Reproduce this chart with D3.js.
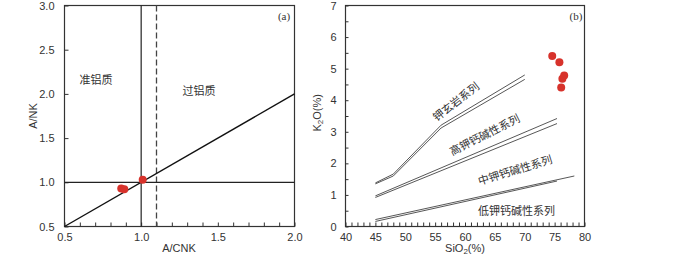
<!DOCTYPE html>
<html>
<head>
<meta charset="utf-8">
<script src="https://cdn.jsdelivr.net/npm/d3@7"></script>
<style>
  body { margin: 0; background: #fff; }
  text { font-family: "Liberation Sans", Arial, sans-serif; fill: #333; }
  .cn { font-family: "Noto Sans CJK SC", sans-serif; }
</style>
</head>
<body>
<div id="chart"></div>
<script>
// ---------- data ----------
// panel (a): A/CNK vs A/NK
const aTicksX = [0.5, 1.0, 1.5, 2.0];
const aTicksY = [0.5, 1.0, 1.5, 2.0, 2.5, 3.0];
const aPoints = [[0.87, 0.93], [0.89, 0.92], [1.01, 1.03]];
const aDiagonal = [[0.5, 0.5], [2.0, 2.0]];

// panel (b): SiO2 vs K2O
const bTicksX = [40, 45, 50, 55, 60, 65, 70, 75, 80];
const bTicksY = [0, 1, 2, 3, 4, 5, 6, 7];
const bPoints = [[74.6, 5.40], [75.8, 5.20], [76.6, 4.78], [76.3, 4.68], [76.1, 4.40]];
const shoUpper = [[45, 1.38], [48, 1.66], [56, 3.21], [70, 4.80]];
const shoLower = [[45, 1.35], [48, 1.60], [56, 3.12], [70, 4.66]];
const hkUpper = [[45, 0.97], [75.4, 3.42]];
const hkLower = [[45, 0.92], [75.4, 3.26]];
const lkUpper = [[45, 0.22], [78.3, 1.60]];
const lkLower = [[45, 0.16], [75.4, 1.44]];
const bLabels = [
  { text: "钾玄岩系列", x: 58.5, y: 3.95, rot: -38 },
  { text: "高钾钙碱性系列", x: 63.3, y: 2.90, rot: -27 },
  { text: "中钾钙碱性系列", x: 68.4, y: 1.78, rot: -17 },
  { text: "低钾钙碱性系列", x: 68.6, y: 0.50, rot: 0 }
];

const svg = d3.select("#chart").append("svg")
  .attr("width", 700).attr("height", 256);

const red = "#d7322b";

// =========================
// PANEL A
// =========================
const xa = d3.scaleLinear().domain([0.5, 2.0]).range([64.5, 294.5]);
const ya = d3.scaleLinear().domain([0.5, 3.0]).range([226.5, 5.5]);

const ga = svg.append("g");

ga.append("rect")
  .attr("x", xa(0.5)).attr("y", ya(3.0))
  .attr("width", xa(2.0) - xa(0.5)).attr("height", ya(0.5) - ya(3.0))
  .attr("fill", "none").attr("stroke", "#333").attr("stroke-width", 1.2);

ga.append("g")
  .attr("transform", `translate(0,${ya(0.5)})`)
  .call(d3.axisBottom(xa).tickValues(d3.range(0.5, 2.001, 0.1)).tickSize(-4).tickFormat(""))
  .call(g => g.select(".domain").remove());
ga.append("g")
  .attr("transform", `translate(0,${ya(0.5)})`)
  .call(d3.axisBottom(xa).tickValues(aTicksX).tickSize(0).tickPadding(7).tickFormat(d3.format(".1f")))
  .call(g => g.select(".domain").remove())
  .selectAll("text").style("font-size", "11px").attr("fill", "#333");

ga.append("g")
  .attr("transform", `translate(${xa(0.5)},0)`)
  .call(d3.axisLeft(ya).tickValues(aTicksY).tickSize(-4).tickPadding(10).tickFormat(d3.format(".1f")))
  .call(g => g.select(".domain").remove())
  .selectAll("text").style("font-size", "11px").attr("fill", "#333");

svg.selectAll(".tick line").attr("stroke", "#333");

// reference lines
ga.append("line")
  .attr("x1", xa(1.0)).attr("x2", xa(1.0)).attr("y1", ya(3.0)).attr("y2", ya(0.5))
  .attr("stroke", "#222").attr("stroke-width", 1.2);
ga.append("line")
  .attr("x1", xa(1.1)).attr("x2", xa(1.1)).attr("y1", ya(3.0)).attr("y2", ya(0.5))
  .attr("stroke", "#444").attr("stroke-width", 1.3).attr("stroke-dasharray", "6,3");
ga.append("line")
  .attr("x1", xa(0.5)).attr("x2", xa(2.0)).attr("y1", ya(1.0)).attr("y2", ya(1.0))
  .attr("stroke", "#222").attr("stroke-width", 1.2);
ga.append("path")
  .attr("d", d3.line().x(d => xa(d[0])).y(d => ya(d[1]))(aDiagonal))
  .attr("fill", "none").attr("stroke", "#111").attr("stroke-width", 1.4);

ga.selectAll("circle").data(aPoints).enter().append("circle")
  .attr("cx", d => xa(d[0])).attr("cy", d => ya(d[1])).attr("r", 4)
  .attr("fill", red);

ga.append("text").attr("class", "cn").attr("x", 96).attr("y", 84)
  .attr("text-anchor", "middle").style("font-size", "11px").text("准铝质");
ga.append("text").attr("class", "cn").attr("x", 199).attr("y", 95)
  .attr("text-anchor", "middle").style("font-size", "11px").text("过铝质");
ga.append("text").attr("x", 284).attr("y", 20).attr("text-anchor", "middle")
  .style("font-family", "'Liberation Serif', serif").style("font-size", "11px").attr("fill", "#222")
  .text("(a)");

ga.append("text").attr("x", 179).attr("y", 252).attr("text-anchor", "middle")
  .style("font-size", "11px").text("A/CNK");
ga.append("text").attr("transform", `translate(37,${ya(1.75)}) rotate(-90)`)
  .attr("text-anchor", "middle").style("font-size", "11px").text("A/NK");

// =========================
// PANEL B
// =========================
const xb = d3.scaleLinear().domain([40, 80]).range([345.5, 584.5]);
const yb = d3.scaleLinear().domain([0, 7]).range([226.5, 5.5]);

const gb = svg.append("g");

gb.append("rect")
  .attr("x", xb(40)).attr("y", yb(7))
  .attr("width", xb(80) - xb(40)).attr("height", yb(0) - yb(7))
  .attr("fill", "none").attr("stroke", "#333").attr("stroke-width", 1.2);

gb.append("g")
  .attr("transform", `translate(0,${yb(0)})`)
  .call(d3.axisBottom(xb).tickValues(d3.range(40, 80.01, 1)).tickSize(-4).tickFormat(""))
  .call(g => g.select(".domain").remove());
gb.append("g")
  .attr("transform", `translate(0,${yb(0)})`)
  .call(d3.axisBottom(xb).tickValues(bTicksX).tickSize(0).tickPadding(7).tickFormat(d3.format("d")))
  .call(g => g.select(".domain").remove())
  .selectAll("text").style("font-size", "11px").attr("fill", "#333");

gb.append("g")
  .attr("transform", `translate(${xb(40)},0)`)
  .call(d3.axisLeft(yb).tickValues(d3.range(0, 7.01, 0.5)).tickSize(-3).tickFormat(""))
  .call(g => g.select(".domain").remove());
gb.append("g")
  .attr("transform", `translate(${xb(40)},0)`)
  .call(d3.axisLeft(yb).tickValues(bTicksY).tickSize(0).tickPadding(9).tickFormat(d3.format("d")))
  .call(g => g.select(".domain").remove())
  .selectAll("text").style("font-size", "11px").attr("fill", "#333");

gb.selectAll(".tick line").attr("stroke", "#333");

const lineB = d3.line().x(d => xb(d[0])).y(d => yb(d[1]));
[shoUpper, shoLower, hkUpper, hkLower, lkUpper, lkLower].forEach(s => {
  gb.append("path").attr("d", lineB(s))
    .attr("fill", "none").attr("stroke", "#444").attr("stroke-width", 0.9);
});

gb.selectAll("circle").data(bPoints).enter().append("circle")
  .attr("cx", d => xb(d[0])).attr("cy", d => yb(d[1])).attr("r", 4)
  .attr("fill", red);

bLabels.forEach(l => {
  gb.append("text").attr("class", "cn")
    .attr("transform", `translate(${xb(l.x)},${yb(l.y)}) rotate(${l.rot})`)
    .attr("text-anchor", "middle").attr("dy", "0.35em")
    .style("font-size", "11px").text(l.text);
});

gb.append("text").attr("x", 576).attr("y", 20).attr("text-anchor", "middle")
  .style("font-family", "'Liberation Serif', serif").style("font-size", "11px").attr("fill", "#222")
  .text("(b)");

const xl = gb.append("text").attr("x", 465).attr("y", 252).attr("text-anchor", "middle")
  .style("font-size", "11px");
xl.append("tspan").text("SiO");
xl.append("tspan").attr("dy", 1.5).style("font-size", "8px").text("2");
xl.append("tspan").attr("dy", -1.5).text("(%)");

const yl = gb.append("text").attr("transform", `translate(321,${yb(3.6)}) rotate(-90)`)
  .attr("text-anchor", "middle").style("font-size", "11px");
yl.append("tspan").text("K");
yl.append("tspan").attr("dy", 2).style("font-size", "8px").text("2");
yl.append("tspan").attr("dy", -2).text("O(%)");
</script>
</body>
</html>
